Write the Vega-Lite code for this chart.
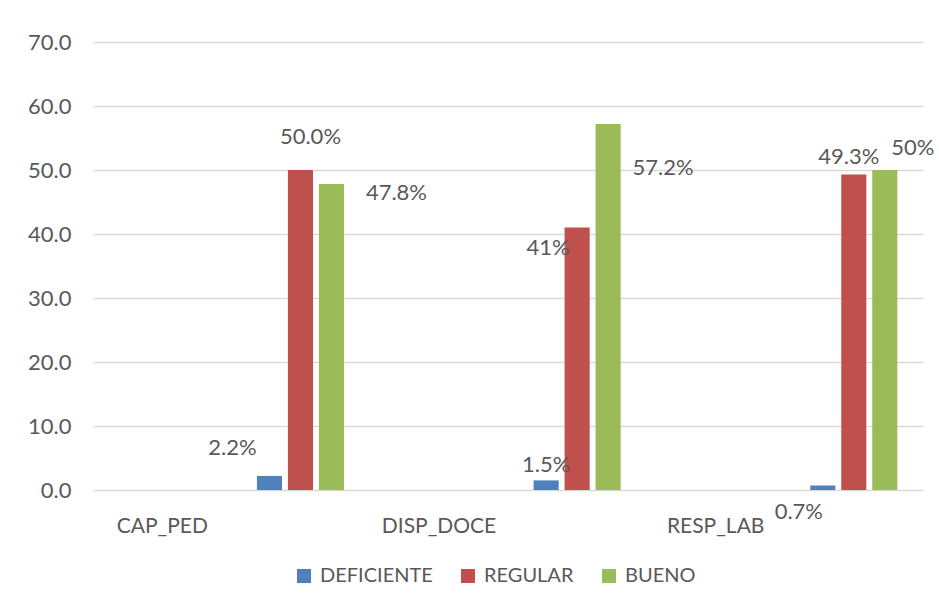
{
  "$schema": "https://vega.github.io/schema/vega-lite/v6.json",
  "width": 830,
  "height": 448,
  "autosize": "none",
  "padding": {"left": 93, "top": 42, "right": 16, "bottom": 117},
  "background": "white",
  "config": {
    "view": {"stroke": null},
    "font": "Lato",
    "text": {"font": "Lato"}
  },
  "data": {
    "values": [
      {"categoria": "CAP_PED", "nivel": "DEFICIENTE", "valor": 2.2, "etiqueta": "2.2%"},
      {"categoria": "CAP_PED", "nivel": "REGULAR", "valor": 50.0, "etiqueta": "50.0%"},
      {"categoria": "CAP_PED", "nivel": "BUENO", "valor": 47.8, "etiqueta": "47.8%"},
      {"categoria": "DISP_DOCE", "nivel": "DEFICIENTE", "valor": 1.5, "etiqueta": "1.5%"},
      {"categoria": "DISP_DOCE", "nivel": "REGULAR", "valor": 41.0, "etiqueta": "41%"},
      {"categoria": "DISP_DOCE", "nivel": "BUENO", "valor": 57.2, "etiqueta": "57.2%"},
      {"categoria": "RESP_LAB", "nivel": "DEFICIENTE", "valor": 0.7, "etiqueta": "0.7%"},
      {"categoria": "RESP_LAB", "nivel": "REGULAR", "valor": 49.3, "etiqueta": "49.3%"},
      {"categoria": "RESP_LAB", "nivel": "BUENO", "valor": 50.0, "etiqueta": "50%"}
    ]
  },
  "encoding": {
    "x": {
      "field": "categoria",
      "type": "nominal",
      "sort": ["CAP_PED", "DISP_DOCE", "RESP_LAB"],
      "scale": {"paddingInner": 0, "paddingOuter": 0},
      "axis": {
        "title": null,
        "labelAngle": 0,
        "ticks": false,
        "domain": false,
        "grid": false,
        "labelOffset": -69,
        "labelPadding": 25,
        "labelFontSize": 21,
        "labelColor": "#595959",
        "labelFont": "Lato"
      }
    },
    "xOffset": {
      "field": "nivel",
      "type": "nominal",
      "scale": {
        "domain": ["s1", "s2", "s3", "s4", "s5", "DEFICIENTE", "REGULAR", "BUENO"],
        "paddingInner": 0.19,
        "paddingOuter": 0.56,
        "align": 0.26
      }
    },
    "y": {
      "field": "valor",
      "type": "quantitative",
      "scale": {"domain": [0, 70], "nice": false},
      "axis": {
        "title": null,
        "values": [0, 10, 20, 30, 40, 50, 60, 70],
        "format": ".1f",
        "ticks": false,
        "domain": false,
        "labelPadding": 22,
        "labelFontSize": 22,
        "labelColor": "#595959",
        "labelFont": "Lato",
        "gridColor": "#d9d9d9",
        "gridWidth": 1.5
      }
    }
  },
  "layer": [
    {
      "mark": {"type": "bar"},
      "encoding": {
        "color": {
          "field": "nivel",
          "type": "nominal",
          "scale": {
            "domain": ["DEFICIENTE", "REGULAR", "BUENO"],
            "range": ["#4F81BD", "#C0504D", "#9BBB59"]
          },
          "legend": {
            "title": null,
            "orient": "none",
            "legendX": 201,
            "legendY": 524,
            "padding": 0,
            "direction": "horizontal",
            "symbolType": "square",
            "symbolSize": 196,
            "symbolStrokeWidth": 0,
            "labelFontSize": 20,
            "labelColor": "#595959",
            "labelFont": "Lato",
            "labelOffset": 6,
            "columnPadding": 25
          }
        }
      }
    },
    {
      "transform": [{"filter": "datum.etiqueta === '2.2%'"}],
      "mark": {"type": "text", "fontSize": 22, "color": "#595959", "align": "center", "baseline": "middle", "dx": -37, "dy": -28},
      "encoding": {"text": {"field": "etiqueta"}}
    },
    {
      "transform": [{"filter": "datum.etiqueta === '50.0%'"}],
      "mark": {"type": "text", "fontSize": 22, "color": "#595959", "align": "center", "baseline": "middle", "dx": 10, "dy": -33},
      "encoding": {"text": {"field": "etiqueta"}}
    },
    {
      "transform": [{"filter": "datum.etiqueta === '47.8%'"}],
      "mark": {"type": "text", "fontSize": 22, "color": "#595959", "align": "center", "baseline": "middle", "dx": 65, "dy": 9},
      "encoding": {"text": {"field": "etiqueta"}}
    },
    {
      "transform": [{"filter": "datum.etiqueta === '1.5%'"}],
      "mark": {"type": "text", "fontSize": 22, "color": "#595959", "align": "center", "baseline": "middle", "dx": 0, "dy": -15},
      "encoding": {"text": {"field": "etiqueta"}}
    },
    {
      "transform": [{"filter": "datum.etiqueta === '41%'"}],
      "mark": {"type": "text", "fontSize": 22, "color": "#595959", "align": "center", "baseline": "middle", "dx": -29, "dy": 20},
      "encoding": {"text": {"field": "etiqueta"}}
    },
    {
      "transform": [{"filter": "datum.etiqueta === '57.2%'"}],
      "mark": {"type": "text", "fontSize": 22, "color": "#595959", "align": "center", "baseline": "middle", "dx": 55, "dy": 44},
      "encoding": {"text": {"field": "etiqueta"}}
    },
    {
      "transform": [{"filter": "datum.etiqueta === '0.7%'"}],
      "mark": {"type": "text", "fontSize": 22, "color": "#595959", "align": "center", "baseline": "middle", "dx": -24, "dy": 26},
      "encoding": {"text": {"field": "etiqueta"}}
    },
    {
      "transform": [{"filter": "datum.etiqueta === '49.3%'"}],
      "mark": {"type": "text", "fontSize": 22, "color": "#595959", "align": "center", "baseline": "middle", "dx": -5, "dy": -17},
      "encoding": {"text": {"field": "etiqueta"}}
    },
    {
      "transform": [{"filter": "datum.etiqueta === '50%'"}],
      "mark": {"type": "text", "fontSize": 22, "color": "#595959", "align": "center", "baseline": "middle", "dx": 28, "dy": -22},
      "encoding": {"text": {"field": "etiqueta"}}
    }
  ]
}
